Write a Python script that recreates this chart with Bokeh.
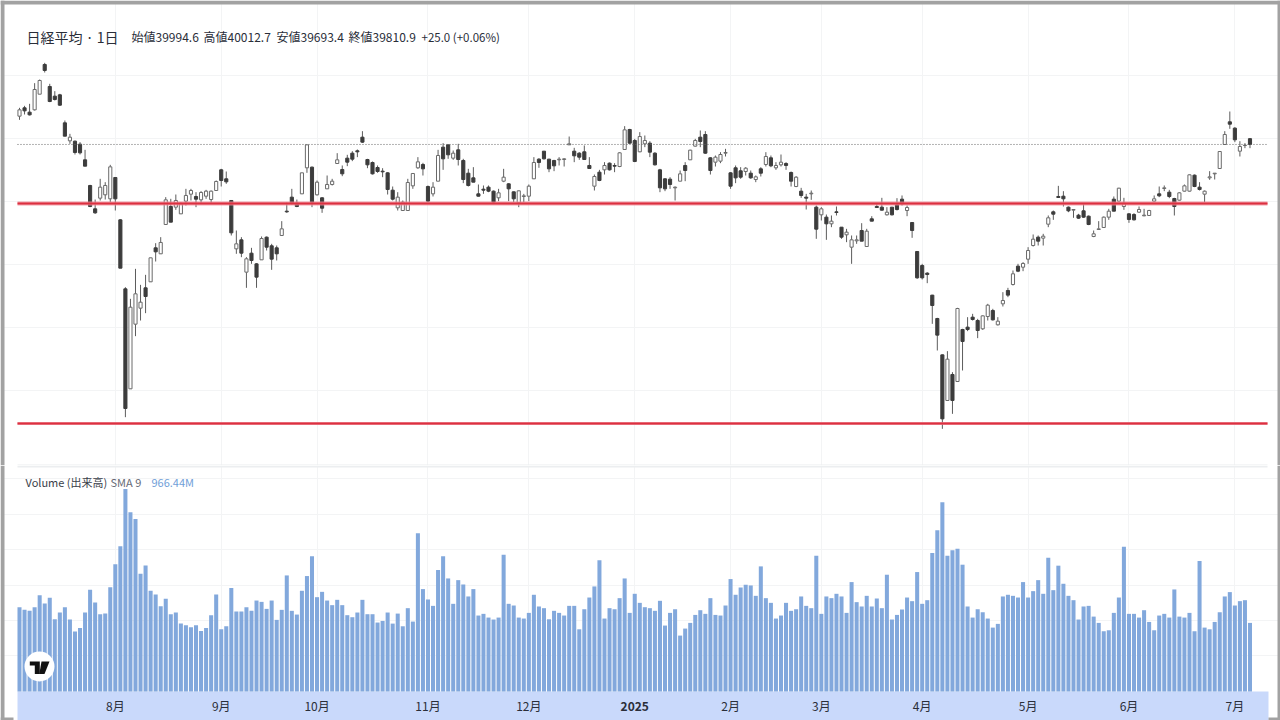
from bokeh.embed import file_html
from bokeh.layouts import column
from bokeh.models import (BoxAnnotation, ColumnDataSource, FixedTicker, Label, LinearAxis,
                          PolyAnnotation, Range1d)
from bokeh.plotting import figure
from bokeh.resources import INLINE

opens = [40709, 40974, 40836, 40910, 41407, 42349, 41651, 41344, 41386, 40497,
    39926, 39915, 39820, 39323, 38508, 37767, 38106, 38212, 38085, 38762,
    37418, 35227, 32053, 34106, 34614, 35259, 35450, 36529, 36339, 37270,
    37841, 37820, 37608, 38011, 38233, 38159, 38053, 38169, 38063, 38349,
    39005, 38720, 38032, 36497, 36783, 35757, 36360, 36021, 36148, 36868,
    36593, 36529, 36921, 37693, 38138, 37947, 38243, 39069, 39090, 38212,
    38117, 38402, 38540, 39206, 39016, 39376, 39534, 39609, 40042, 39333,
    39238, 39079, 38963, 38910, 38360, 37799, 37714, 37714, 38497, 39069,
    39175, 38476, 38243, 38645, 39725, 39799, 39376, 39640, 39302, 38899,
    38751, 38243, 38391, 38455, 38328, 38117, 38645, 38561, 38307, 37958,
    38159, 38169, 38720, 39344, 39598, 39344, 39302, 39323, 39333, 39799,
    39598, 39534, 39577, 39143, 38487, 38931, 39005, 39217, 39143, 39111,
    39651, 40286, 39937, 39577, 39831, 39852, 39534, 39005, 38720, 38709,
    38434, 38645, 39143, 39323, 39757, 40042, 40127, 39386, 39249, 39281,
    39534, 38910, 39069, 38974, 38952, 38899, 38698, 39037, 39175, 39386,
    39069, 39164, 39206, 38921, 38476, 38328, 38138, 38243, 37820, 37577,
    37503, 37291, 37672, 37185, 36942, 36550, 36751, 37079, 36571, 37450,
    37841, 37820, 37577, 37820, 37894, 38074, 37714, 37333, 36413, 35968,
    35725, 35027, 34286, 33132, 31683, 32508, 32286, 33937, 34011, 34328,
    34222, 33958, 34349, 34540, 34085, 34751, 35175, 35365, 35947, 35915,
    36169, 36603, 36868, 36836, 37280, 37672, 38159, 38169, 37820, 37725,
    37566, 37704, 37534, 36889, 37111, 37175, 37503, 38074, 38011, 37841,
    37608, 37587, 37661, 37545, 37556, 38011, 38243, 38413, 38296, 38095,
    38042, 38328, 38328, 38836, 38455, 38233, 38751, 38878, 39048, 39810,
    40529, 40328, 39598, 39778, 39994.6]
highs = [40974, 41037, 41101, 41757, 41873, 42402, 41736, 41503, 41418, 40571,
    40148, 39937, 39884, 39640, 38529, 38063, 38720, 38614, 39164, 38772,
    37439, 35280, 34910, 35862, 35354, 35672, 36212, 36677, 36868, 38138,
    38085, 38222, 37979, 38402, 38402, 38296, 38328, 38370, 38349, 38667,
    39037, 38952, 38032, 37079, 36868, 36233, 36529, 36042, 36889, 36889,
    36656, 36603, 37376, 37968, 38402, 38063, 38910, 39799, 39111, 38667,
    38138, 38825, 38720, 39534, 39143, 39482, 39598, 39651, 40233, 39355,
    39270, 39143, 39058, 38931, 38476, 38296, 38032, 38720, 38899, 39408,
    39228, 38508, 38614, 39640, 39852, 39799, 39619, 39831, 39355, 39037,
    39090, 38540, 38508, 38508, 38349, 38402, 39037, 38582, 38317, 38349,
    38243, 38540, 39408, 39376, 39598, 39355, 39323, 39408, 39376, 40063,
    39704, 39566, 39778, 39408, 38857, 39005, 39249, 39238, 39217, 39566,
    40392, 40307, 39989, 40201, 40095, 39915, 39566, 39037, 38741, 38772,
    38476, 38984, 39249, 39640, 39989, 40254, 40233, 39408, 39460, 39566,
    39672, 38931, 39143, 39090, 39090, 38984, 38825, 39090, 39566, 39460,
    39249, 39492, 39249, 38952, 38804, 38434, 38243, 38349, 37873, 37820,
    37587, 37556, 37841, 37185, 37132, 36921, 36921, 37312, 37132, 37534,
    37958, 38117, 37820, 37820, 38106, 38191, 37873, 37344, 36423, 36021,
    35757, 35037, 34307, 33143, 33249, 32582, 34624, 33958, 34328, 34434,
    34275, 34381, 34751, 34593, 34328, 35122, 35259, 35810, 36021, 36074,
    36550, 36953, 36921, 36974, 37556, 37714, 38497, 38328, 37841, 37746,
    37608, 37926, 37556, 37079, 37376, 37524, 37767, 38159, 38434, 38117,
    37630, 37630, 37841, 37767, 37735, 38191, 38476, 38508, 38370, 38117,
    38296, 38540, 38857, 38857, 38614, 38349, 38963, 38899, 39598, 40233,
    40857, 40360, 39915, 39852, 40012.7]
lows = [40593, 40762, 40730, 40889, 41407, 42095, 41153, 41206, 41037, 40074,
    39831, 39492, 39492, 39122, 37820, 37608, 38032, 38063, 37979, 37714,
    35884, 31153, 32053, 33725, 34222, 34455, 35450, 36095, 36339, 37270,
    37344, 37735, 37608, 37873, 38032, 37820, 37926, 38085, 37926, 38349,
    38476, 38561, 36921, 36339, 36233, 35259, 36021, 35259, 36148, 36444,
    35831, 36127, 36921, 37640, 37905, 37820, 38243, 38910, 37820, 38191,
    37640, 38402, 38508, 39196, 38804, 39122, 39281, 39408, 39862, 39058,
    38857, 38910, 38772, 38222, 38032, 37714, 37714, 37714, 38402, 39037,
    38825, 37979, 38159, 38645, 39005, 39355, 39323, 39143, 38582, 38476,
    38614, 38159, 38243, 38296, 37926, 38011, 38614, 38011, 37979, 37820,
    37979, 38011, 38720, 39069, 39333, 38931, 38963, 39143, 39111, 39799,
    39249, 39323, 39323, 39037, 38349, 38645, 38857, 38984, 38931, 39090,
    39640, 39831, 39249, 39566, 39725, 39408, 39143, 38296, 38328, 38402,
    38032, 38645, 38645, 39323, 39746, 39725, 39513, 38857, 39111, 39217,
    39429, 38402, 38582, 38720, 38825, 38720, 38614, 38794, 39111, 39090,
    39005, 39111, 39005, 38476, 38455, 38117, 37746, 38053, 36815, 37397,
    36783, 37185, 37556, 36815, 36709, 36021, 36656, 36741, 36571, 37376,
    37799, 37714, 37556, 37556, 37714, 37873, 37534, 36847, 35545, 35524,
    35407, 34116, 33270, 30783, 31683, 31259, 32286, 32635, 33884, 34222,
    33662, 33926, 34222, 34222, 34064, 34667, 34963, 35333, 35757, 35788,
    36021, 36571, 36603, 36603, 37185, 37418, 38117, 37841, 37661, 37482,
    37450, 37482, 37249, 36868, 37111, 37164, 37418, 37693, 38000, 37735,
    37323, 37397, 37640, 37534, 37545, 38000, 38138, 38328, 38106, 37556,
    38032, 38317, 38317, 38455, 38349, 37979, 38688, 38698, 39037, 39810,
    40307, 39884, 39429, 39693, 39693.4]
closes = [40910, 40878, 40751, 41556, 41841, 42159, 41175, 41238, 41058, 40074,
    40042, 39556, 39545, 39122, 37841, 37640, 38455, 38508, 39100, 38085,
    35884, 31429, 34645, 35069, 34804, 34984, 36212, 36402, 36699, 38053,
    37344, 38032, 37926, 38191, 38349, 38074, 38286, 38328, 38328, 38635,
    38667, 38624, 37005, 36656, 36360, 36180, 36127, 35598, 36825, 36550,
    36169, 36339, 37132, 37672, 37958, 37841, 38910, 39799, 37979, 38614,
    37788, 38540, 38645, 39323, 38878, 39249, 39344, 39577, 39884, 39164,
    38878, 38952, 38942, 38381, 38074, 38138, 37979, 38603, 38889, 39259,
    39037, 38011, 38455, 39460, 39355, 39482, 39534, 39333, 38698, 38508,
    38614, 38169, 38360, 38328, 37979, 38275, 38772, 38402, 38085, 38339,
    38180, 38487, 39238, 39238, 39355, 39037, 39132, 39344, 39355, 39831,
    39450, 39408, 39333, 39048, 38794, 38667, 39143, 39005, 39122, 39545,
    40275, 39852, 39270, 40063, 39937, 39566, 39164, 38434, 38402, 38540,
    38455, 38878, 38984, 39630, 39937, 39905, 39534, 38984, 39408, 39492,
    39556, 38487, 38751, 38772, 39058, 38751, 38783, 38899, 39429, 39132,
    39143, 39249, 39143, 38645, 38772, 38191, 38106, 38265, 37122, 37767,
    37291, 37376, 37651, 36868, 37027, 36783, 36783, 36741, 37058, 37376,
    37809, 37725, 37661, 37577, 37746, 37926, 37809, 37079, 35577, 35577,
    35683, 34698, 33757, 31100, 32995, 31683, 34603, 33556, 33937, 34254,
    33905, 34370, 34709, 34243, 34201, 34857, 35027, 35704, 35788, 36032,
    36444, 36804, 36741, 36899, 37482, 37598, 38127, 38085, 37704, 37746,
    37471, 37503, 37270, 36974, 37132, 37503, 37693, 37693, 38423, 37947,
    37429, 37418, 37746, 37566, 37714, 38085, 38180, 38434, 38159, 37841,
    38275, 38497, 38847, 38476, 38381, 38328, 38783, 38899, 39587, 40127,
    40455, 39958, 39746, 39785.9, 39810.9]
# millions of shares
volumes = [950, 920, 909, 950, 1086, 992, 1056, 814, 890, 950,
    811, 675, 716, 890, 1146, 1003, 871, 878, 1176, 1433,
    1636, 2281, 2021, 1945, 1327, 1421, 1135, 1093, 961, 1044,
    871, 890, 765, 746, 724, 746, 682, 716, 860, 1093,
    701, 735, 1165, 901, 901, 950, 909, 1025, 1010, 931,
    1025, 807, 920, 1308, 909, 867, 1135, 1301, 1523, 1063,
    1123, 1025, 973, 1033, 973, 860, 837, 890, 1033, 871,
    871, 777, 795, 890, 765, 878, 735, 939, 788, 1783,
    1154, 1037, 965, 1369, 1523, 1274, 988, 1255, 1206, 1071,
    1154, 856, 875, 833, 811, 833, 1542, 988, 969, 833,
    822, 886, 1090, 958, 939, 814, 909, 886, 856, 965,
    965, 701, 927, 1059, 1184, 1478, 822, 939, 927, 1052,
    1274, 886, 1101, 999, 950, 939, 909, 1022, 743, 886,
    927, 630, 709, 773, 863, 916, 875, 1052, 863, 856,
    969, 1267, 1090, 1172, 1203, 1195, 1078, 1410, 1052, 999,
    822, 856, 999, 909, 927, 1071, 965, 939, 1531, 875,
    1071, 1052, 1101, 1071, 886, 1233, 1007, 958, 1078, 958,
    1048, 939, 1316, 811, 863, 924, 1059, 1018, 1346, 988,
    1029, 1561, 1817, 2134, 1531, 1591, 1610, 1429, 958, 833,
    927, 893, 822, 720, 762, 1071, 1090, 1078, 1059, 1233,
    1059, 1131, 1255, 1101, 1508, 1142, 1418, 1214, 1078, 1029,
    811, 958, 965, 844, 773, 679, 690, 886, 1059, 1632,
    875, 875, 833, 916, 784, 690, 856, 875, 833, 1150,
    844, 833, 886, 679, 1470, 720, 701, 784, 893, 1071,
    1120, 969, 1018, 1029, 773]

month_ticks = [19, 40, 59, 81, 101, 141, 159, 179, 200, 220, 241]
month_labels = ["8月", "9月", "10月", "11月", "12月", "2月", "3月", "4月", "5月", "6月", "7月"]
year_tick = 122
year_label = "2025"
grid_x = month_ticks + [year_tick]
price_grid = [32000, 34000, 36000, 38000, 40000, 42000]
volume_grid = [400, 800, 1200, 1600, 2000, 2400]
red_levels = [37936, 30952]
last_close = 39810.9

JP = "Noto Sans CJK JP"
WIDTH = 1280
FRAME = "#a2a2a2"
X0, X1 = -0.397, 247.47          # chart area, the rest of the canvas is the window edge
xr = Range1d(-3.768, 250.05)
GRID = "#f3f4f5"


def add_boxes(fig, boxes, color=FRAME, level="annotation"):
    for left, right, top, bottom in boxes:
        fig.add_layout(BoxAnnotation(left=left, right=right, top=top, bottom=bottom,
            left_units="canvas", right_units="canvas", top_units="canvas", bottom_units="canvas",
            fill_color=color, fill_alpha=1, line_color=None, level=level))


p = figure(width=WIDTH, height=465, x_range=xr, y_range=Range1d(29619, 44381),
    output_backend="svg", toolbar_location=None, tools="",
    min_border_left=0, min_border_right=0, min_border_top=0, min_border_bottom=0)
p.xaxis.visible = False
p.yaxis.visible = False
p.outline_line_color = None
p.xgrid[0].ticker = FixedTicker(ticks=grid_x)
p.ygrid[0].ticker = FixedTicker(ticks=price_grid)
p.xgrid[0].bounds = (29619, 43841)
p.ygrid[0].bounds = (X0, X1)
p.xgrid.grid_line_color = GRID
p.ygrid.grid_line_color = GRID

idx = list(range(len(closes)))
up = [c >= o for o, c in zip(opens, closes)]
source = ColumnDataSource(dict(
    x=idx, high=highs, low=lows,
    top=[max(o, c) for o, c in zip(opens, closes)],
    bottom=[min(o, c) for o, c in zip(opens, closes)],
    fill=["#ffffff" if u else "#3c3c3c" for u in up],
    edge=["#6a6a6a" if u else "#3c3c3c" for u in up],
))
p.segment("x", "high", "x", "low", source=source, line_color="#5c5c5c", line_width=1)
p.vbar("x", 0.62, "top", "bottom", source=source, fill_color="fill", line_color="edge", line_width=1)

p.line([X0, X1], [last_close, last_close], line_color="#666666", line_width=1, line_dash="1 2")
p.line([X0, X1], [red_levels[0]] * 2, line_color="#f08a96", line_width=4, line_alpha=0.8)
p.line([X0, X1], [red_levels[0]] * 2, line_color="#dc3040", line_width=2)
p.line([X0, X1], [red_levels[1]] * 2, line_color="#f08a96", line_width=3, line_alpha=0.8)
p.line([X0, X1], [red_levels[1]] * 2, line_color="#dc3040", line_width=2)

header = [("日経平均 · 1日", 26, 14), ("始値39994.6", 131, 12), ("高値40012.7", 203, 12),
    ("安値39693.4", 276, 12), ("終値39810.9", 348, 12), ("+25.0 (+0.06%)", 421, 11.5)]
for txt, x, size in header:
    p.add_layout(Label(x=x, y=36, x_units="canvas", y_units="canvas", text=txt,
        text_font=JP, text_font_size=f"{size}px", text_color="#2a2e39",
        text_baseline="middle"))
add_boxes(p, [(0, 1280, 0, 4), (0, 4, 0, 465), (1277, 1280, 0, 465)])
add_boxes(p, [(17, 1267, 464, 465)], color="#eceef0")

v = figure(width=WIDTH, height=255, x_range=xr, y_range=Range1d(-327, 2547),
    output_backend="svg", toolbar_location=None, tools="",
    min_border_left=0, min_border_right=0, min_border_top=0, min_border_bottom=0,
    x_axis_location=None)
v.yaxis.visible = False
v.outline_line_color = None
v.xgrid[0].ticker = FixedTicker(ticks=grid_x)
v.ygrid[0].ticker = FixedTicker(ticks=volume_grid)
v.xgrid[0].bounds = (0, 2547)
v.ygrid[0].bounds = (X0, X1)
v.xgrid.grid_line_color = GRID
v.ygrid.grid_line_color = GRID

add_boxes(v, [(17, 1268, 226, 255)], color="#c9d9fb", level="underlay")
v.vbar(idx, 0.8, volumes, 0, fill_color="#82a8dc", line_color=None)


def month_axis(ticks, labels, style, standoff):
    ax = LinearAxis(fixed_location=0, ticker=FixedTicker(ticks=ticks),
        major_label_overrides=dict(zip(ticks, labels)),
        major_label_text_font=JP, major_label_text_font_size="12px",
        major_label_text_font_style=style, major_label_text_color="#2a2e39",
        major_label_standoff=standoff, major_tick_out=0, major_tick_in=0,
        major_tick_line_color=None, minor_tick_line_color=None, axis_line_color=None)
    v.add_layout(ax, "below")


month_axis(month_ticks, month_labels, "normal", 6)
month_axis([year_tick], [year_label], "bold", 11)

add_boxes(v, [(17, 1267, 0, 2)], color="#eceef0")

legend_items = [("Volume (出来高)", 25, "#3a3e49"), ("SMA 9", 110, "#666a75"), ("966.44M", 151, "#6f9ed8")]
for txt, x, col in legend_items:
    v.add_layout(Label(x=x, y=16, x_units="canvas", y_units="canvas", text=txt,
        text_font=JP, text_font_size="11px", text_color=col, text_baseline="middle"))

# TradingView badge
v.add_layout(BoxAnnotation(left=24, right=54, top=186, bottom=216, left_units="canvas",
    right_units="canvas", top_units="canvas", bottom_units="canvas",
    fill_color="#ffffff", fill_alpha=1, line_color=None, border_radius=15))
for xs, ys in [([29.3, 39.3, 39.3, 34.3, 34.3, 29.3], [196, 196, 208.5, 208.5, 200, 200]),
               ([41, 49, 44, 38.8], [196, 196, 208.5, 208.5])]:
    v.add_layout(PolyAnnotation(xs=xs, ys=ys, xs_units="canvas", ys_units="canvas",
        fill_color="#111111", fill_alpha=1, line_color=None))
add_boxes(v, [(0, 4, 0, 255), (1277, 1280, 0, 255), (0, 13, 252, 255), (1268, 1280, 252, 255)])

out = column(p, v, spacing=0)
open("out.html", "w").write(file_html(out, INLINE))
